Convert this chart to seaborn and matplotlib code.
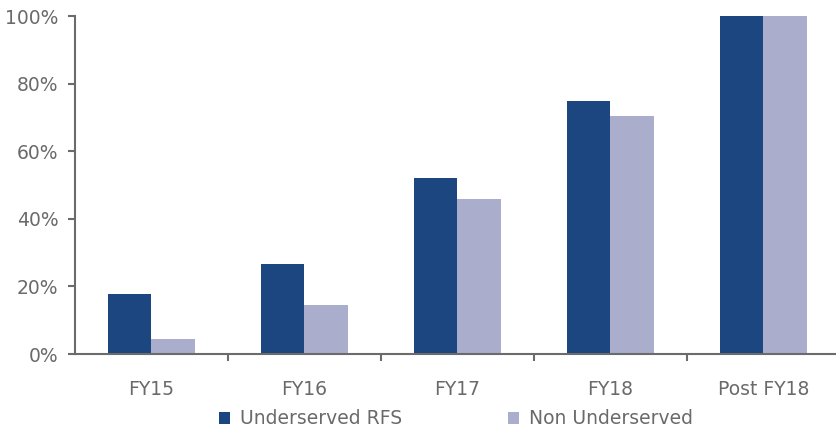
import matplotlib
matplotlib.use("Agg")
import matplotlib.pyplot as plt
import seaborn as sns
import pandas as pd
from matplotlib.ticker import FuncFormatter, FixedLocator

categories = ["FY15", "FY16", "FY17", "FY18", "Post FY18"]
underserved = [17.8, 26.5, 52.0, 74.9, 100.0]
non_underserved = [4.3, 14.4, 45.9, 70.5, 100.0]
series_names = ["Underserved RFS", "Non Underserved"]
colors = ["#1c4680", "#aaadcb"]
y_ticks = [0, 20, 40, 60, 80, 100]

df = pd.DataFrame({
    "cat": categories * 2,
    "val": underserved + non_underserved,
    "series": [series_names[0]] * len(categories) + [series_names[1]] * len(categories),
})

sns.set_style("white")
plt.rcParams['font.family'] = ['DejaVu Sans']
text_col = "#6a6a6a"
axis_col = "#6b6b6b"
fs = 13.5

fig = plt.figure(figsize=(8.37, 4.33), dpi=100)
ax = fig.add_axes([75/837, 79/433, 765/837, 338/433])

sns.barplot(data=df, x="cat", y="val", hue="series", palette=colors,
            width=0.57, saturation=1, ax=ax, legend=True, linewidth=0)

ax.set_xlim(-0.5, 4.5)
ax.set_ylim(0, 100)
ax.set_xlabel("")
ax.set_ylabel("")
ax.yaxis.set_major_locator(FixedLocator(y_ticks))
ax.yaxis.set_major_formatter(FuncFormatter(lambda v, p: f"{int(v)}%"))

ax.set_xticks(range(len(categories)))
ax.set_xticklabels(categories)
ax.set_xticks([0.5, 1.5, 2.5, 3.5], minor=True)
ax.tick_params(axis="x", which="major", length=0, pad=19, labelsize=fs, labelcolor=text_col)
ax.tick_params(axis="x", which="minor", bottom=True, length=5, width=1.5, color=axis_col, direction="out")
ax.tick_params(axis="y", which="major", length=5, width=1.5, color=axis_col, pad=7,
               labelsize=fs, labelcolor=text_col, direction="out", left=True)

for s in ["top", "right"]:
    ax.spines[s].set_visible(False)
for s in ["left", "bottom"]:
    ax.spines[s].set_color(axis_col)
    ax.spines[s].set_linewidth(1.5)
ax.spines["left"].set_zorder(0)

handles, labels = ax.get_legend_handles_labels()
ax.get_legend().remove()
fig.legend(handles, labels, loc="center", bbox_to_anchor=(456/837, 1 - 419/433),
           ncol=2, frameon=False, fontsize=fs, labelcolor=text_col,
           handlelength=0.6, handleheight=0.6, handletextpad=0.55, columnspacing=5.6)

fig.savefig("out.png", dpi=100)
